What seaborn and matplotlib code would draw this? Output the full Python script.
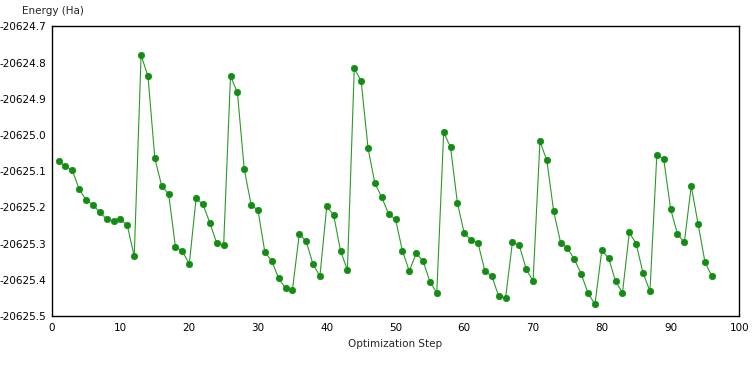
import matplotlib
matplotlib.use("Agg")
import matplotlib.pyplot as plt
import numpy as np
import pandas as pd
import seaborn as sns
from matplotlib.ticker import FormatStrFormatter, MultipleLocator

# energy per optimisation step
steps = list(range(1, 97))
energy = [
    -20625.073, -20625.086, -20625.098, -20625.150, -20625.180, -20625.193,
    -20625.214, -20625.232, -20625.238, -20625.232, -20625.250, -20625.335,
    -20624.780, -20624.838, -20625.065, -20625.141, -20625.163, -20625.310,
    -20625.320, -20625.357, -20625.175, -20625.192, -20625.243, -20625.299,
    -20625.305, -20624.838, -20624.882, -20625.095, -20625.193, -20625.208,
    -20625.324, -20625.348, -20625.396, -20625.423, -20625.429, -20625.274,
    -20625.293, -20625.357, -20625.390, -20625.197, -20625.221, -20625.320,
    -20625.373, -20624.816, -20624.851, -20625.036, -20625.134, -20625.172,
    -20625.219, -20625.233, -20625.320, -20625.376, -20625.327, -20625.348,
    -20625.405, -20625.436, -20624.993, -20625.034, -20625.188, -20625.272,
    -20625.290, -20625.299, -20625.376, -20625.390, -20625.445, -20625.450,
    -20625.296, -20625.305, -20625.370, -20625.404, -20625.018, -20625.070,
    -20625.211, -20625.297, -20625.313, -20625.343, -20625.384, -20625.437,
    -20625.468, -20625.318, -20625.341, -20625.404, -20625.436, -20625.269,
    -20625.301, -20625.382, -20625.431, -20625.054, -20625.067, -20625.204,
    -20625.274, -20625.296, -20625.141, -20625.246, -20625.351, -20625.390,
]

df = pd.DataFrame({"step": steps, "energy": energy})

sns.set_style("white")
plt.rcParams["font.family"] = ["DejaVu Sans"]
plt.rcParams["font.size"] = 7.5

fig = plt.figure(figsize=(7.56, 3.84), dpi=100)
ax = fig.add_axes([0.0684, 0.177, 0.9096, 0.7545])

sns.lineplot(
    data=df, x="step", y="energy", ax=ax,
    color="#2a9a2a", linewidth=0.8,
    marker="o", markersize=4.6,
    markerfacecolor="#128c12", markeredgecolor="#128c12", markeredgewidth=0.5,
)

ax.set_xlim(0, 100)
ax.set_ylim(-20625.5, -20624.7)
ax.xaxis.set_major_locator(MultipleLocator(10))
ax.xaxis.set_minor_locator(MultipleLocator(5))
ax.yaxis.set_major_locator(MultipleLocator(0.1))
ax.yaxis.set_minor_locator(MultipleLocator(0.05))
ax.yaxis.set_major_formatter(FormatStrFormatter("%.1f"))

ax.tick_params(which="both", direction="inout", length=4, width=0.8,
               colors="black", labelsize=7.5, pad=2)
ax.tick_params(axis="x", which="major", pad=3)
for s in ax.spines.values():
    s.set_color("black")
    s.set_linewidth(1.0)

ax.set_xlabel("Optimization Step", fontsize=7.5, labelpad=4)
ax.set_ylabel("")
fig.text(0.029, 0.972, "Energy (Ha)", fontsize=7.5, ha="left", va="center")

fig.savefig("out.png", dpi=100, facecolor="white")
